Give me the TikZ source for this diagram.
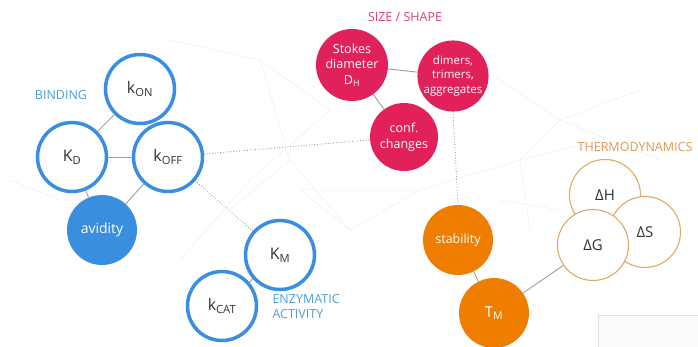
\documentclass[tikz,border=0pt]{standalone}
\usepackage{fontspec}
\setmainfont{Open Sans}
\definecolor{bblue}{HTML}{3A8EDF}
\definecolor{lblue}{HTML}{4AA0DC}
\definecolor{bpink}{HTML}{E0215A}
\definecolor{lpink}{HTML}{D9407A}
\definecolor{borange}{HTML}{EE7D00}
\definecolor{btan}{HTML}{DDAA66}
\definecolor{ltan}{HTML}{E09A50}
\definecolor{txtgray}{HTML}{333333}
\definecolor{netgray}{HTML}{ECEFF2}
\tikzset{
  ring/.style={circle, draw=bblue, line width=3.5pt, fill=white, minimum size=69pt, inner sep=0pt, text=txtgray, font=\fontsize{16}{18}\selectfont},
  bfill/.style={circle, fill=bblue, minimum size=70pt, inner sep=0pt, text=white, font=\fontsize{14}{16}\selectfont},
  pfill/.style={circle, fill=bpink, minimum size=72pt, inner sep=0pt, text=white, align=center, font=\fontsize{12.5}{15.5}\selectfont},
  ofill/.style={circle, fill=borange, minimum size=70pt, inner sep=0pt, text=white, align=center},
  tring/.style={circle, draw=btan, line width=1.1pt, fill=white, minimum size=71pt, inner sep=0pt, text=txtgray, font=\fontsize{15}{17}\selectfont},
  link/.style={draw=gray!75, line width=0.9pt},
  dlink/.style={draw=gray!90!black, line width=0.7pt, dotted},
  net/.style={draw=netgray, line width=0.5pt},
  grouplabel/.style={font=\fontsize{12.5}{15}\selectfont, align=left}
}
\begin{document}
\begin{tikzpicture}[x=1pt,y=-1pt]
\useasboundingbox (0,0) rectangle (698,346);
\fill[white] (0,0) rectangle (698,346);
% faint background network
\draw[net] (170,40) -- (260,60) -- (330,110) -- (250,180) -- (180,260);
\draw[net] (260,60) -- (290,160) -- (350,230) -- (420,190) -- (520,160) -- (560,120) -- (640,90);
\draw[net] (290,160) -- (230,210) (350,230) -- (300,190) -- (420,190);
\draw[net] (520,160) -- (600,140) (520,160) -- (530,230) (470,60) -- (560,120) -- (660,160);
\draw[net] (10,180) -- (60,200) (500,200) -- (560,210);
% bottom right panel
\draw[draw=gray!25, fill=gray!3, line width=0.8pt] (598,315) rectangle (710,360);
% nodes
\node[ring] (kon) at (140,89) {k\textsubscript{ON}};
\node[ring] (kd) at (72,157) {K\textsubscript{D}};
\node[ring] (koff) at (168,157) {k\textsubscript{OFF}};
\node[bfill] (avid) at (102,230) {avidity};
\node[ring] (km) at (280,255) {K\textsubscript{M}};
\node[ring] (kcat) at (222,306) {k\textsubscript{CAT}};
\node[pfill] (stokes) at (352,65) {Stokes\\diameter\\D\textsubscript{H}};
\node[pfill, minimum size=68pt, font=\fontsize{11.5}{14.5}\selectfont] (dimers) at (453,76) {dimers,\\trimers,\\aggregates};
\node[pfill, minimum size=68pt, font=\fontsize{12.5}{16}\selectfont] (conf) at (404,137) {conf.\\changes};
\node[ofill, font=\fontsize{12.5}{14}\selectfont] (stab) at (458,240) {stability};
\node[ofill, font=\fontsize{15}{17}\selectfont] (tm) at (494,313) {T\textsubscript{M}};
\node[tring] (dh) at (605,195) {ΔH};
\node[tring] (ds) at (645,232) {ΔS};
\node[tring] (dg) at (593,245) {ΔG};
% labels
\node[grouplabel, text=lblue] (lbind) at (61,95) {BINDING};
\node[grouplabel, text=lblue, anchor=west] (lenz) at (269,307) {ENZYMATIC\\ACTIVITY};
\node[grouplabel, text=lpink] (lsize) at (405,17) {SIZE / SHAPE};
\node[grouplabel, text=ltan] (lthermo) at (635,147) {THERMODYNAMICS};
% connectors
\draw[link] (kon) -- (kd);
\draw[link] (kd) -- (koff);
\draw[link] (kd) -- (avid);
\draw[link] (koff) -- (avid);
\draw[link] (km) -- (kcat);
\draw[link] (stokes) -- (dimers);
\draw[link] (stokes) -- (conf);
\draw[link] (stab) -- (tm);
\draw[link] (tm) -- (dg);
\draw[dlink] (koff) -- (conf);
\draw[dlink] (koff) -- (km);
\draw[dlink] (dimers.south) -- (stab.north);
\end{tikzpicture}
\end{document}
